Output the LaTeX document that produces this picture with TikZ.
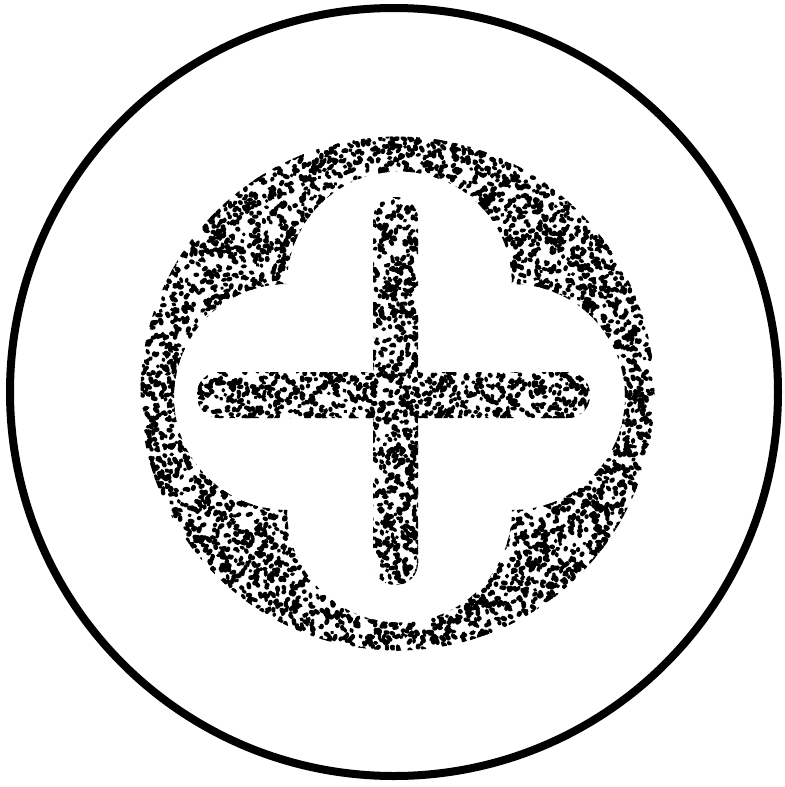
\documentclass[tikz,border=0pt]{standalone}
\usepackage{tikz}
\begin{document}
\begin{tikzpicture}[
  x=0.1mm, y=-0.1mm,
  rim/.style={draw=black, line width=0.8mm},
  grain/.style={draw=black, line cap=round}
]
\useasboundingbox (0,0) rectangle (785,787);
\pgfmathsetseed{4711}
% one grain: a short blob
\newcommand\speck[2]{%
  \pgfmathsetmacro{\t}{360*rnd}
  \pgfmathsetmacro{\d}{0.4+3.2*rnd}
  \draw[grain, line width={0.32mm+0.16mm*rnd}] (#1,#2) -- ++({\d*cos(\t)},{\d*sin(\t)});}
% outer ring
\draw[rim] (394,392) circle[radius=384];
% stippled band round the quatrefoil
\begin{scope}[even odd rule]
  \clip (397.5,393.5) circle[radius=257]
    (287,284) arc[start angle=180, end angle=360, radius=112.5]
    arc[start angle=-90, end angle=90, radius=113]
    arc[start angle=0, end angle=180, radius=112.5]
    arc[start angle=90, end angle=270, radius=113] -- cycle;
  \foreach \i in {1,...,5000}{
    \pgfmathsetmacro{\r}{100*sqrt(1.5*1.5+rnd*(2.58*2.58-1.5*1.5))}
    \pgfmathsetmacro{\a}{360*rnd}
    \pgfmathsetmacro{\px}{397.5+\r*cos(\a)}
    \pgfmathsetmacro{\py}{393.5+\r*sin(\a)}
    \speck{\px}{\py}
  }
\end{scope}
% stippled cross
\begin{scope}[rounded corners=2.2mm]
  \clip (373,197) rectangle (418,585) (197,372) rectangle (590,418);
  \foreach \i in {1,...,700}{
    \pgfmathsetmacro{\px}{371+49*rnd}
    \pgfmathsetmacro{\py}{195+392*rnd}
    \speck{\px}{\py}}
  \foreach \i in {1,...,320}{
    \pgfmathsetmacro{\px}{195+178*rnd}
    \pgfmathsetmacro{\py}{370+50*rnd}
    \speck{\px}{\py}}
  \foreach \i in {1,...,320}{
    \pgfmathsetmacro{\px}{418+174*rnd}
    \pgfmathsetmacro{\py}{370+50*rnd}
    \speck{\px}{\py}}
\end{scope}
\end{tikzpicture}
\end{document}
